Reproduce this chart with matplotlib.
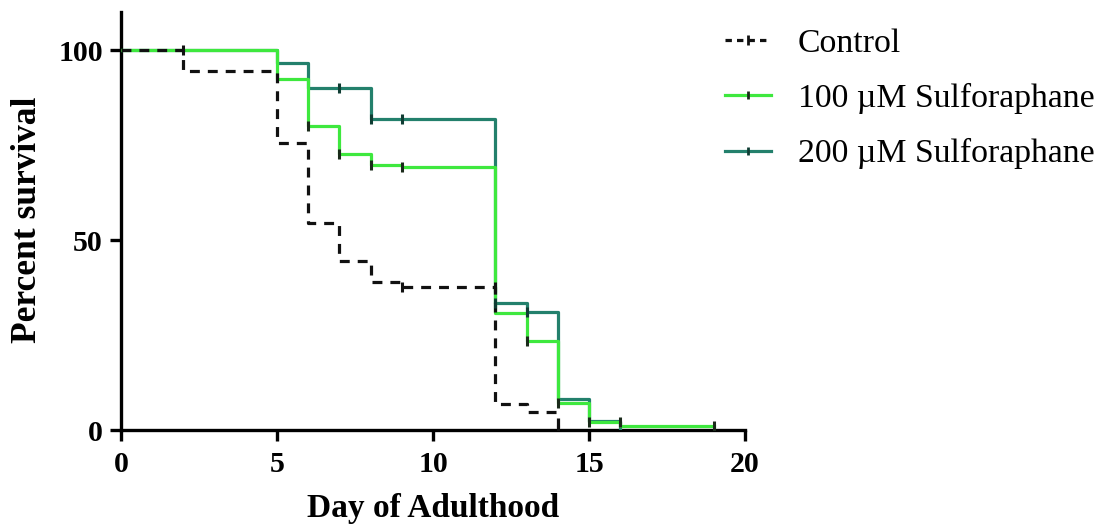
import matplotlib
matplotlib.use("Agg")
import matplotlib.pyplot as plt
from matplotlib.lines import Line2D

# ---- data ----
ctrl_days = [0, 2, 5, 6, 7, 8, 9, 12, 13, 14]
ctrl_surv = [100, 94.5, 75.5, 54.5, 44.5, 39.0, 37.7, 6.8, 4.8, 0]
ctrl_cens_days = [2, 9, 12, 14]
ctrl_cens_surv = [100, 37.7, 37.7, 0]

s100_days = [0, 5, 6, 7, 8, 9, 12, 13, 14, 15, 16, 19]
s100_surv = [100, 92.3, 80.0, 72.6, 69.7, 69.1, 30.8, 23.3, 7.2, 2.2, 1.1, 1.1]
s100_cens_days = [6, 7, 8, 9, 13, 14, 15, 16, 19]
s100_cens_surv = [80.0, 72.6, 69.7, 69.1, 23.3, 7.2, 2.2, 2.2, 1.1]

s200_days = [0, 5, 6, 8, 12, 13, 14, 15, 16]
s200_surv = [100, 96.7, 90.0, 81.8, 33.5, 31.1, 8.2, 2.5, 0]
s200_cens_days = [7, 8, 9, 12, 13]
s200_cens_surv = [90.0, 81.8, 81.8, 33.5, 31.1]

labels = ["Control", "100 \u00b5M Sulforaphane", "200 \u00b5M Sulforaphane"]
colors = ["#111111", "#3ee83e", "#23806c"]
x_ticks = [0, 5, 10, 15, 20]
y_ticks = [0, 50, 100]

plt.rcParams["font.family"] = ["Liberation Serif", "DejaVu Serif"]

fig = plt.figure(figsize=(11.08, 5.29), dpi=100)
ax = fig.add_axes([0.1092, 0.1871, 0.5632, 0.7902])

lw = 2.3
ax.step(s200_days, s200_surv, where="post", color=colors[2], lw=lw, zorder=3)
ax.step(s100_days, s100_surv, where="post", color=colors[1], lw=lw, zorder=4)
ax.step(ctrl_days, ctrl_surv, where="post", color=colors[0], lw=lw,
        dashes=(3.1, 2.5), zorder=5)

ax.plot(s200_cens_days, s200_cens_surv, ls="none", marker="|", ms=7, mew=2.2,
        color="#0f3d33", zorder=6)
ax.plot(s100_cens_days, s100_cens_surv, ls="none", marker="|", ms=7, mew=2.2,
        color="#1a2a1a", zorder=6)
ax.plot(ctrl_cens_days, ctrl_cens_surv, ls="none", marker="|", ms=7, mew=2.2,
        color="#111111", zorder=6)

ax.set_xlim(0, 20)
ax.set_ylim(0, 110)
ax.set_xticks(x_ticks)
ax.set_yticks(y_ticks)
for s in ["top", "right"]:
    ax.spines[s].set_visible(False)
for s in ["left", "bottom"]:
    ax.spines[s].set_linewidth(2.4)
    ax.spines[s].set_color("black")
    ax.spines[s].set_capstyle("projecting")
ax.spines["bottom"].set_bounds(0, 20)
ax.tick_params(axis="both", direction="out", length=8, width=2.4, colors="black",
               labelsize=21.5)
ax.tick_params(axis="x", pad=7)
ax.tick_params(axis="y", pad=5)
for t in ax.get_xticklabels() + ax.get_yticklabels():
    t.set_fontweight("bold")

ax.set_xlabel("Day of Adulthood", fontsize=24, fontweight="bold", labelpad=11)
ax.set_ylabel("Percent survival", fontsize=25.5, fontweight="bold")
ax.yaxis.label.set_va("center")
ax.yaxis.set_label_coords(-0.15, 0.504)

handles = [
    Line2D([], [], color=colors[0], lw=lw, dashes=(2.0, 1.6), marker="|", ms=7,
           mew=2.0, mec="#111111"),
    Line2D([], [], color=colors[1], lw=lw, marker="|", ms=6, mew=2.0, mec="#1a2a1a"),
    Line2D([], [], color=colors[2], lw=lw, marker="|", ms=6, mew=2.0, mec="#0f3d33"),
]
leg = fig.legend(handles, labels, loc="upper left", bbox_to_anchor=(0.6543, 0.947),
                 frameon=False, fontsize=24.3, handlelength=1.35, handletextpad=0.8,
                 labelspacing=0.72, numpoints=1, borderpad=0, borderaxespad=0)

fig.savefig("out.png", dpi=100, facecolor="white")
